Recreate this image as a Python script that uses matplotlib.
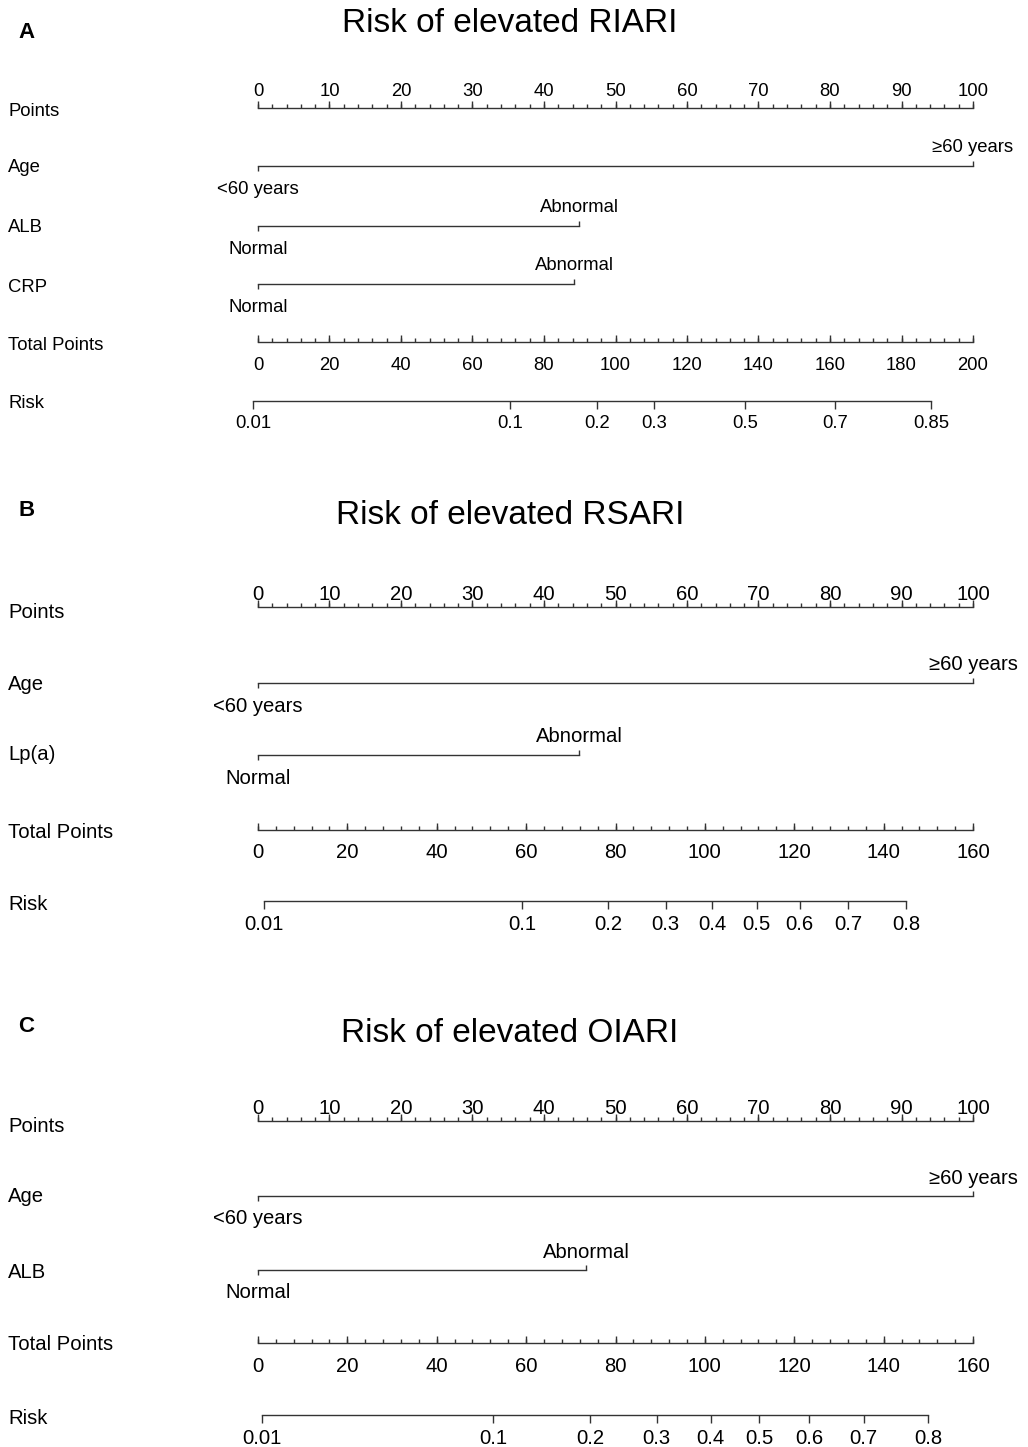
import matplotlib.pyplot as plt
import numpy as np

plt.rcParams['font.family'] = ['Liberation Sans', 'DejaVu Sans']

# ---- data ----
points_major = list(range(0, 101, 10))

# A: RIARI
a_title = "Risk of elevated RIARI"
a_factors = ["Age", "ALB", "CRP"]
a_low = ["<60 years", "Normal", "Normal"]
a_high = ["≥60 years", "Abnormal", "Abnormal"]
a_high_pts = [100, 44.9, 44.2]
a_total_max = 200
a_total_major = list(range(0, 201, 20))
a_risk_labels = ["0.01", "0.1", "0.2", "0.3", "0.5", "0.7", "0.85"]
a_risk_tp = [-1.4, 70.4, 94.8, 110.7, 136.2, 161.4, 188.2]

# B: RSARI
b_title = "Risk of elevated RSARI"
b_factors = ["Age", "Lp(a)"]
b_low = ["<60 years", "Normal"]
b_high = ["≥60 years", "Abnormal"]
b_high_pts = [100, 44.9]
b_total_max = 160
b_total_major = list(range(0, 161, 20))
b_risk_labels = ["0.01", "0.1", "0.2", "0.3", "0.4", "0.5", "0.6", "0.7", "0.8"]
b_risk_tp = [1.4, 59.1, 78.3, 91.2, 101.7, 111.6, 121.2, 132.0, 145.0]

# C: OIARI
c_title = "Risk of elevated OIARI"
c_factors = ["Age", "ALB"]
c_low = ["<60 years", "Normal"]
c_high = ["≥60 years", "Abnormal"]
c_high_pts = [100, 45.9]
c_total_max = 160
c_total_major = list(range(0, 161, 20))
c_risk_labels = ["0.01", "0.1", "0.2", "0.3", "0.4", "0.5", "0.6", "0.7", "0.8"]
c_risk_tp = [0.96, 52.6, 74.4, 89.2, 101.3, 112.2, 123.4, 135.5, 150.0]

# ---- layout (pixel rows) ----
fig = plt.figure(figsize=(10.28, 14.47), dpi=100)
ax = fig.add_axes([0, 0, 1, 1])
ax.set_xlim(-258 / 7.15, (1028 - 258) / 7.15)
ax.set_ylim(1447, 0)
ax.axis('off')

LC = '#333333'
LW = 1.0
DY = 2  # text nudge


def draw_panel(letter, title, title_y, letter_y, fs, rows_y, label_y,
               factors, low, high, high_pts, total_max, total_major,
               risk_labels, risk_tp, pts_lab_off):
    tr = ax.get_yaxis_transform()  # x in axes fraction, y in data
    ax.text(18 / 1028, letter_y + DY, letter, transform=tr, fontsize=16,
            fontweight='bold', ha='left', va='center')
    ax.text(510 / 1028, title_y + DY, title, transform=tr, fontsize=24,
            ha='center', va='center')

    names = ["Points"] + factors + ["Total Points", "Risk"]
    for nm, ly in zip(names, label_y):
        ax.text(8 / 1028, ly + DY, nm, transform=tr, fontsize=fs,
                ha='left', va='center')

    # points axis
    y = rows_y[0]
    ax.plot([0, 100], [y, y], color=LC, lw=LW)
    minor = np.arange(0, 101, 2)
    ax.vlines(minor, y - 4, y, color=LC, lw=LW)
    ax.vlines(points_major, y - 7, y, color=LC, lw=LW)
    for v in points_major:
        ax.text(v, y + pts_lab_off + DY, str(v), fontsize=fs, ha='center', va='center')

    # factor rows
    for i in range(len(factors)):
        y = rows_y[1 + i]
        hp = high_pts[i]
        ax.plot([0, hp], [y, y], color=LC, lw=LW)
        ax.vlines(0, y, y + 5, color=LC, lw=LW)
        ax.vlines(hp, y - 5, y, color=LC, lw=LW)
        ax.text(0, y + 21 + DY, low[i], fontsize=fs, ha='center', va='center')
        ax.text(hp, y - 20 + DY, high[i], fontsize=fs, ha='center', va='center')

    # total points axis
    y = rows_y[-2]
    sc = 100 / total_max
    ax.plot([0, 100], [y, y], color=LC, lw=LW)
    minor = np.arange(0, total_max + 1, 4) * sc
    ax.vlines(minor, y - 4, y, color=LC, lw=LW)
    ax.vlines(np.array(total_major) * sc, y - 7, y, color=LC, lw=LW)
    for v in total_major:
        ax.text(v * sc, y + 21 + DY, str(v), fontsize=fs, ha='center', va='center')

    # risk axis
    y = rows_y[-1]
    rx = np.array(risk_tp) * sc
    ax.plot([rx[0], rx[-1]], [y, y], color=LC, lw=LW)
    ax.vlines(rx, y, y + 8, color=LC, lw=LW)
    for xv, lab in zip(rx, risk_labels):
        ax.text(xv, y + 21 + DY, lab, fontsize=fs, ha='center', va='center')


draw_panel("A", a_title, 22, 30, 13.3,
           [108, 166, 226, 284, 342, 401],
           [109, 166, 226, 285, 343, 402],
           a_factors, a_low, a_high, a_high_pts, a_total_max, a_total_major,
           a_risk_labels, a_risk_tp, -18)

draw_panel("B", b_title, 513, 509, 14.6,
           [607, 683, 755, 830, 901],
           [611, 682, 753, 830, 903],
           b_factors, b_low, b_high, b_high_pts, b_total_max, b_total_major,
           b_risk_labels, b_risk_tp, -15)

draw_panel("C", c_title, 1031, 1025, 14.6,
           [1121, 1196, 1270, 1343, 1415],
           [1124, 1195, 1270, 1343, 1416],
           c_factors, c_low, c_high, c_high_pts, c_total_max, c_total_major,
           c_risk_labels, c_risk_tp, -15)

fig.savefig("out.png", dpi=100, facecolor='white')
